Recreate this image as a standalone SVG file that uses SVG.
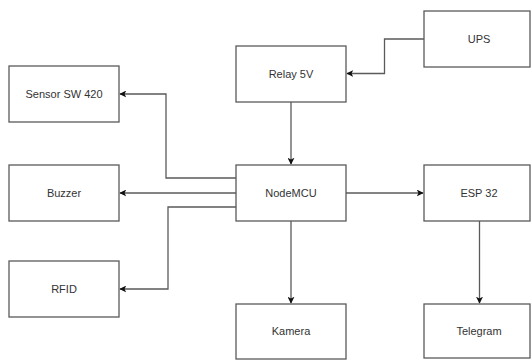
<svg xmlns="http://www.w3.org/2000/svg" width="532" height="360" viewBox="0 0 532 360">
<defs>
<style>
.box{fill:#ffffff;stroke:#5a5a5a;stroke-width:1.3}
.lbl{font-family:"Liberation Sans",Arial,sans-serif;font-size:11px;fill:#333333;text-anchor:middle;dominant-baseline:central}
.edge{fill:none;stroke:#5a5a5a;stroke-width:1.3}
</style>
<marker id="arr" viewBox="0 0 10 10" refX="9" refY="5" markerWidth="7" markerHeight="7" markerUnits="userSpaceOnUse" orient="auto">
<path d="M0,0 L10,5 L0,10 L2.5,5 Z" fill="#111111"/>
</marker>
</defs>
<rect width="532" height="360" fill="#ffffff"/>
<g id="connectors">
<path class="edge" d="M424,39 H384.5 V73.5 H347" marker-end="url(#arr)"/>
<path class="edge" d="M291,102 V164" marker-end="url(#arr)"/>
<path class="edge" d="M236,178 H166 V94 H120" marker-end="url(#arr)"/>
<path class="edge" d="M236,193 H120" marker-end="url(#arr)"/>
<path class="edge" d="M236,207 H168 V289 H120" marker-end="url(#arr)"/>
<path class="edge" d="M346,193 H423" marker-end="url(#arr)"/>
<path class="edge" d="M291,221 V303" marker-end="url(#arr)"/>
<path class="edge" d="M479.5,221 V303" marker-end="url(#arr)"/>
</g>
<g id="ups"><rect class="box" x="424" y="11" width="106" height="56"/><text class="lbl" x="479" y="39">UPS</text></g>
<g id="relay"><rect class="box" x="236" y="46" width="110" height="56"/><text class="lbl" x="291" y="74">Relay 5V</text></g>
<g id="sensor"><rect class="box" x="9" y="66" width="110" height="56"/><text class="lbl" x="64" y="94">Sensor SW 420</text></g>
<g id="buzzer"><rect class="box" x="9" y="165" width="110" height="56"/><text class="lbl" x="64" y="193">Buzzer</text></g>
<g id="nodemcu"><rect class="box" x="236" y="165" width="110" height="56"/><text class="lbl" x="291" y="193">NodeMCU</text></g>
<g id="esp32"><rect class="box" x="424" y="165" width="106" height="56"/><text class="lbl" x="479" y="193">ESP 32</text></g>
<g id="rfid"><rect class="box" x="9" y="261" width="110" height="56"/><text class="lbl" x="64" y="289">RFID</text></g>
<g id="kamera"><rect class="box" x="236" y="304" width="110" height="55"/><text class="lbl" x="291" y="331">Kamera</text></g>
<g id="telegram"><rect class="box" x="424" y="304" width="106" height="54"/><text class="lbl" x="479" y="331">Telegram</text></g>
</svg>
